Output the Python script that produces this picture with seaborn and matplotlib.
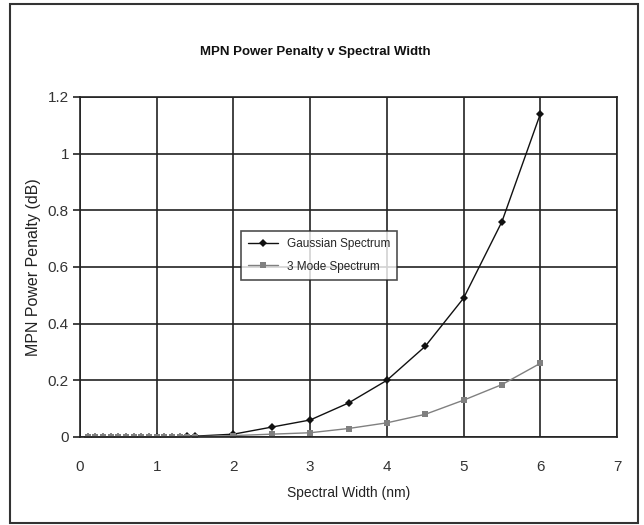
import numpy as np
import pandas as pd
import matplotlib
matplotlib.use("Agg")
import matplotlib.pyplot as plt
import seaborn as sns
from matplotlib.patches import Rectangle

# spectral width (nm)
width_nm = [0.1, 0.2, 0.3, 0.4, 0.5, 0.6, 0.7, 0.8, 0.9, 1.0, 1.1, 1.2, 1.3, 1.4, 1.5,
            2.0, 2.5, 3.0, 3.5, 4.0, 4.5, 5.0, 5.5, 6.0]
# penalty (dB)
gaussian = [0, 0, 0, 0, 0, 0, 0, 0, 0, 0, 0.0005, 0.001, 0.001, 0.002, 0.003,
            0.01, 0.035, 0.06, 0.12, 0.2, 0.32, 0.49, 0.76, 1.14]
three_mode = [0, 0, 0, 0, 0, 0, 0, 0, 0, 0, 0, 0, 0, 0.001, 0.001,
              0.005, 0.01, 0.015, 0.03, 0.05, 0.08, 0.13, 0.185, 0.26]
series_names = ["Gaussian Spectrum", "3 Mode Spectrum"]

df = pd.DataFrame({
    "width": width_nm * 2,
    "penalty": gaussian + three_mode,
    "series": [series_names[0]] * len(width_nm) + [series_names[1]] * len(width_nm),
})

sns.set_style("white")
plt.rcParams['font.family'] = ['Liberation Sans Narrow', 'Liberation Sans', 'DejaVu Sans']

fig = plt.figure(figsize=(6.44, 5.25), dpi=100)
ax = fig.add_axes([80 / 644, 1 - 437 / 525, 537 / 644, 340 / 525])

sns.lineplot(data=df, x="width", y="penalty", hue="series", style="series",
             palette={series_names[0]: "#111111", series_names[1]: "#808080"},
             markers={series_names[0]: "D", series_names[1]: "s"},
             dashes=False, markersize=4, linewidth=1.0, markeredgewidth=0,
             ax=ax)

ax.set_xlim(0, 7)
ax.set_ylim(0, 1.2)
ax.set_xticks(range(0, 8))
ax.set_yticks([0, 0.2, 0.4, 0.6, 0.8, 1.0, 1.2])
ax.set_yticklabels(["0", "0.2", "0.4", "0.6", "0.8", "1", "1.2"])
ax.grid(True, color="#222222", linewidth=1.2)
for s in ax.spines.values():
    s.set_color("#222222")
    s.set_linewidth(1.2)
ax.tick_params(axis="y", left=True, length=5, width=1.2, color="#222222",
               labelsize=11, labelcolor="#333333", pad=3)
ax.tick_params(axis="x", bottom=False, labelsize=11, labelcolor="#333333", pad=13)

ax.set_xlabel("Spectral Width (nm)", fontsize=10, color="#222222", labelpad=9)
ax.set_ylabel("MPN Power Penalty (dB)", fontsize=11.5, color="#222222", labelpad=5)
fig.text(0.5 - 7 / 644, 1 - 52 / 525, "MPN Power Penalty v Spectral Width", ha="center",
         va="center", fontsize=9.5, fontweight="bold", color="#111111")

leg = ax.legend(loc="upper left", bbox_to_anchor=((235 - 80) / 537, (437 - 225) / 340),
                frameon=True, fancybox=False, fontsize=8.5, handlelength=2.5,
                borderpad=0.6, labelspacing=0.9)
leg.get_frame().set_edgecolor("#222222")
leg.get_frame().set_linewidth(1.2)

fig.patches.append(Rectangle((10 / 644, 2 / 525), 628 / 644, 519 / 525,
                             transform=fig.transFigure, fill=False,
                             edgecolor="#333333", linewidth=1.5))

fig.savefig("out.png", dpi=100)
